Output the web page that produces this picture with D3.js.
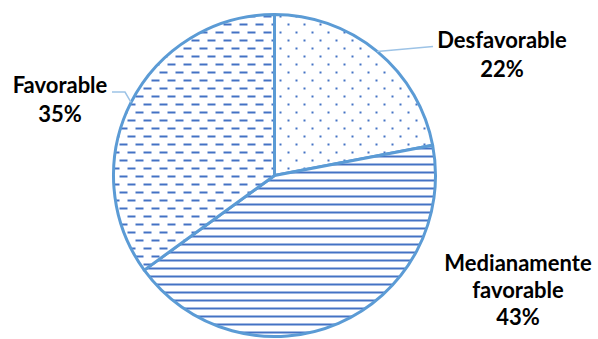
<!DOCTYPE html>
<html><head><meta charset="utf-8">
<script src="https://cdn.jsdelivr.net/npm/d3@7"></script>
<style>body{margin:0;background:#fff}svg{display:block}</style>
</head><body>
<svg id="chart" width="598" height="339"></svg>
<script>
const categories = ["Desfavorable", "Medianamente favorable", "Favorable"];
const values = [22, 43, 35];
const labelLines = [["Desfavorable"], ["Medianamente", "favorable"], ["Favorable"]];
const patterns = ["dots", "hlines", "dashes"];

const W = 598, H = 339, cx = 274.5, cy = 175.5, R = 161;
const fill = "#4472C4", edge = "#5B9BD5";
const svg = d3.select("#chart");
const defs = svg.append("defs");

const pd = defs.append("pattern").attr("id","dots").attr("patternUnits","userSpaceOnUse")
  .attr("width",16).attr("height",16).attr("x",285).attr("y",24);
pd.append("rect").attr("width",16).attr("height",16).attr("fill","#fff");
pd.append("rect").attr("x",0).attr("y",0).attr("width",2).attr("height",2).attr("fill",fill);
pd.append("rect").attr("x",8).attr("y",8).attr("width",2).attr("height",2).attr("fill",fill);

const ph = defs.append("pattern").attr("id","hlines").attr("patternUnits","userSpaceOnUse")
  .attr("width",8).attr("height",8).attr("x",0).attr("y",4);
ph.append("rect").attr("width",8).attr("height",8).attr("fill","#fff");
ph.append("rect").attr("x",0).attr("y",0).attr("width",8).attr("height",2).attr("fill",fill);

const pdash = defs.append("pattern").attr("id","dashes").attr("patternUnits","userSpaceOnUse")
  .attr("width",16).attr("height",16).attr("x",237).attr("y",24);
pdash.append("rect").attr("width",16).attr("height",16).attr("fill","#fff");
pdash.append("rect").attr("x",0).attr("y",0).attr("width",8).attr("height",2).attr("fill",fill);
pdash.append("rect").attr("x",8).attr("y",8).attr("width",8).attr("height",2).attr("fill",fill);

const pie = d3.pie().sort(null).value(d => d)(values);
const arc = d3.arc().innerRadius(0).outerRadius(R);
const g = svg.append("g").attr("transform", `translate(${cx},${cy})`);
g.selectAll("path").data(pie).join("path")
  .attr("d", arc)
  .attr("fill", (d,i) => `url(#${patterns[i]})`)
  .attr("stroke", edge).attr("stroke-width", 3).attr("stroke-linejoin","round");

// label layout
const labelPos = [
  {x: 502, y: 48},
  {x: 518, y: 271},
  {x: 60, y: 93}
];
const lh = 29;
const fmt = v => Math.round(v / d3.sum(values) * 100) + "%";
labelPos.forEach((p, i) => {
  const t = svg.append("text").attr("text-anchor","middle")
    .attr("font-family","Lato, 'Open Sans', sans-serif").attr("font-weight","bold")
    .attr("font-size", 22).attr("fill","#000");
  const lines = labelLines[i].concat([fmt(values[i])]);
  const step = i === 1 ? 27 : lh;
  lines.forEach((s, k) => t.append("tspan").attr("x", p.x).attr("y", p.y + k * step).text(s));
});

// leader lines
function edgePt(d) {
  const a = (d.startAngle + d.endAngle) / 2;
  return [cx + R * Math.sin(a), cy - R * Math.cos(a)];
}
const e0 = edgePt(pie[0]);
svg.append("polyline").attr("points", [e0, [433, 46.5]].map(p => p.join(",")).join(" "))
  .attr("fill","none").attr("stroke", "#9DC3E6").attr("stroke-width", 1.5);
const e2 = edgePt(pie[2]);
svg.append("polyline").attr("points", [e2, [125, 92], [112, 92]].map(p => p.join(",")).join(" "))
  .attr("fill","none").attr("stroke", "#9DC3E6").attr("stroke-width", 1.5);
</script>
</body></html>
